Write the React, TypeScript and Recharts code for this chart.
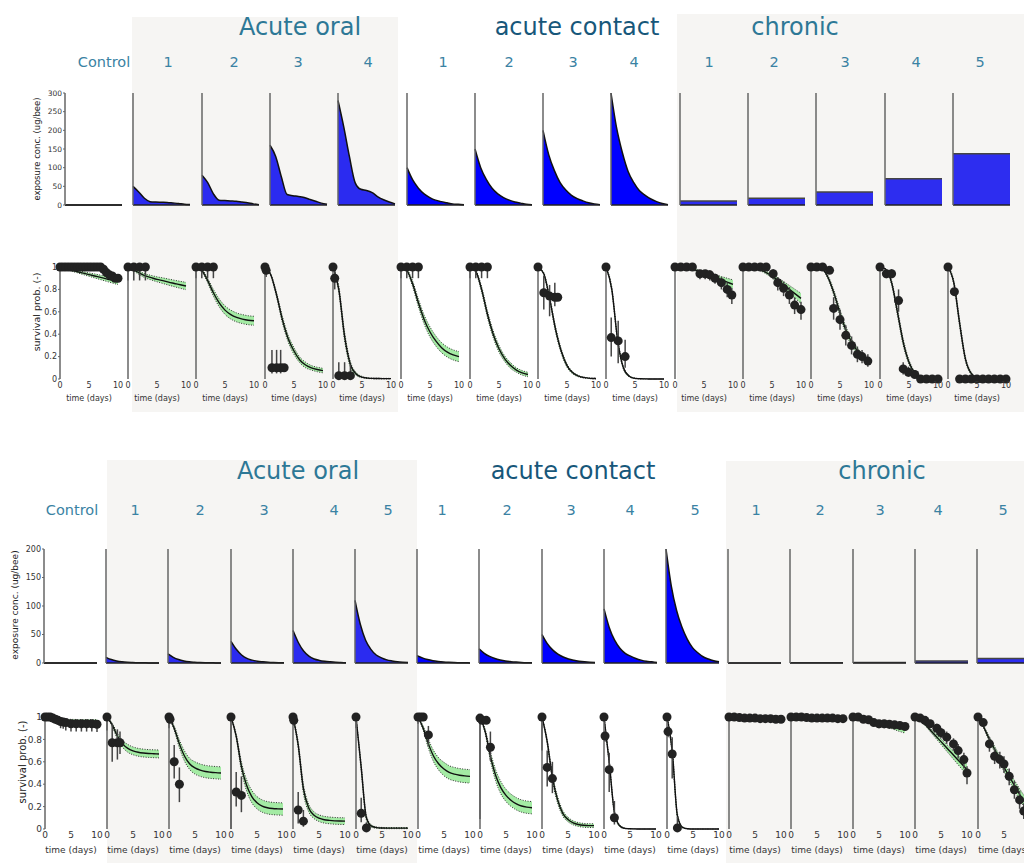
import React from "react";
import { ComposedChart, Area, Line, Scatter, ErrorBar, XAxis, YAxis } from "recharts";

// ---- shared ----
const days = [0, 1, 2, 3, 4, 5, 6, 7, 8, 9, 10];
const groupTitles = ["Acute oral", "acute contact", "chronic"];

// ---- top panel data ----
const topColumns = ["Control", "1", "2", "3", "4", "1", "2", "3", "4", "1", "2", "3", "4", "5"];
const topKinds = ["control", "oral", "oral", "oral", "oral", "contact", "contact", "contact", "contact", "chronic", "chronic", "chronic", "chronic", "chronic"];
const topExposureTicks = [0, 50, 100, 150, 200, 250, 300];

const topExposure: number[][] = [
  [0, 0, 0, 0, 0, 0, 0, 0, 0, 0, 0],
  [50, 35, 18, 9, 8, 7.5, 7, 5.5, 4, 2, 1],
  [80, 60, 30, 13, 12, 11, 10, 8, 6, 3, 1],
  [160, 130, 75, 28, 25, 23, 20, 15, 10, 5, 2],
  [280, 210, 130, 60, 42, 39, 33, 22, 14, 8, 3],
  [100, 67, 45, 30, 20, 13, 9, 6, 3, 2, 0.5],
  [150, 100, 68, 45, 30, 20, 13, 8, 5, 2, 1],
  [200, 135, 92, 60, 40, 26, 17, 11, 6, 3, 1],
  [300, 205, 140, 90, 60, 38, 26, 16, 9, 4, 1],
  [11, 11, 11, 11, 11, 11, 11, 11, 11, 11, 11],
  [18, 18, 18, 18, 18, 18, 18, 18, 18, 18, 18],
  [35, 35, 35, 35, 35, 35, 35, 35, 35, 35, 35],
  [70, 70, 70, 70, 70, 70, 70, 70, 70, 70, 70],
  [137, 137, 137, 137, 137, 137, 137, 137, 137, 137, 137],
];

const topMed: number[][] = [
  [1, 0.985, 0.97, 0.958, 0.945, 0.932, 0.92, 0.907, 0.894, 0.882, 0.87],
  [1, 0.975, 0.945, 0.92, 0.905, 0.89, 0.878, 0.865, 0.853, 0.841, 0.83],
  [1, 0.97, 0.88, 0.77, 0.68, 0.615, 0.575, 0.55, 0.535, 0.525, 0.52],
  [1, 0.93, 0.75, 0.53, 0.36, 0.25, 0.17, 0.125, 0.1, 0.085, 0.075],
  [1, 0.8, 0.38, 0.13, 0.045, 0.017, 0.008, 0.005, 0.004, 0.003, 0.003],
  [1, 0.97, 0.85, 0.68, 0.53, 0.42, 0.34, 0.28, 0.24, 0.215, 0.2],
  [1, 0.96, 0.8, 0.58, 0.4, 0.27, 0.18, 0.12, 0.08, 0.055, 0.04],
  [1, 0.94, 0.72, 0.45, 0.25, 0.12, 0.055, 0.025, 0.012, 0.006, 0.004],
  [1, 0.8, 0.35, 0.1, 0.025, 0.006, 0.002, 0.001, 0, 0, 0],
  [1, 1, 0.99, 0.98, 0.965, 0.945, 0.925, 0.905, 0.885, 0.865, 0.845],
  [1, 1, 0.99, 0.975, 0.95, 0.92, 0.88, 0.84, 0.8, 0.76, 0.72],
  [1, 1, 0.98, 0.9, 0.76, 0.59, 0.44, 0.33, 0.25, 0.195, 0.155],
  [1, 0.98, 0.86, 0.6, 0.33, 0.15, 0.055, 0.02, 0.006, 0.002, 0.001],
  [1, 0.86, 0.5, 0.18, 0.05, 0.012, 0.003, 0.001, 0, 0, 0],
];

const topSpread: number[][] = [
  [0, 0.005, 0.008, 0.01, 0.013, 0.015, 0.018, 0.02, 0.022, 0.025, 0.027],
  [0, 0.01, 0.015, 0.018, 0.02, 0.022, 0.025, 0.027, 0.029, 0.031, 0.033],
  [0, 0.01, 0.02, 0.03, 0.035, 0.038, 0.04, 0.04, 0.04, 0.04, 0.04],
  [0, 0.01, 0.02, 0.03, 0.03, 0.03, 0.025, 0.025, 0.02, 0.02, 0.02],
  [0, 0.03, 0.04, 0.025, 0.012, 0.006, 0.004, 0.003, 0.003, 0.003, 0.003],
  [0, 0.01, 0.025, 0.035, 0.04, 0.045, 0.045, 0.045, 0.045, 0.045, 0.045],
  [0, 0.01, 0.025, 0.03, 0.03, 0.03, 0.025, 0.025, 0.02, 0.02, 0.02],
  [0, 0.01, 0.02, 0.025, 0.02, 0.015, 0.01, 0.006, 0.004, 0.003, 0.003],
  [0, 0.02, 0.02, 0.012, 0.006, 0.003, 0.002, 0.001, 0, 0, 0],
  [0, 0, 0.005, 0.008, 0.01, 0.015, 0.02, 0.025, 0.03, 0.035, 0.04],
  [0, 0, 0.005, 0.008, 0.012, 0.018, 0.024, 0.03, 0.035, 0.04, 0.045],
  [0, 0, 0.005, 0.015, 0.025, 0.03, 0.03, 0.03, 0.028, 0.025, 0.022],
  [0, 0.005, 0.02, 0.03, 0.03, 0.02, 0.01, 0.005, 0.002, 0.001, 0],
  [0, 0.02, 0.03, 0.02, 0.01, 0.005, 0.002, 0, 0, 0, 0],
];

// observations: [day, survival, error below, error above]
const topObs: number[][][] = [
  [[0, 1], [0.5, 1], [1, 1], [1.5, 1], [2, 1], [2.5, 1], [3, 1], [3.5, 1], [4, 1], [4.5, 1], [5, 1], [5.5, 1], [6, 1], [6.5, 1], [7, 1], [7.5, 0.98], [8, 0.95], [8.5, 0.93], [9, 0.92], [9.5, 0.9], [10, 0.9]],
  [[0, 1, 0.12, 0], [1, 1, 0.12, 0], [2, 1, 0.12, 0], [3, 1, 0.12, 0]],
  [[0, 1, 0.1, 0], [1, 1, 0.1, 0], [2, 1, 0.1, 0], [3, 1, 0.1, 0]],
  [[0, 1], [0.2, 0.97, 0.06, 0.03], [1.2, 0.1, 0.05, 0.16], [2, 0.1, 0.05, 0.16], [2.7, 0.1, 0.05, 0.16], [3.3, 0.1]],
  [[0, 1], [0.3, 0.9, 0.1, 0.08], [1, 0.03, 0.02, 0.12], [2, 0.03, 0.02, 0.12], [3, 0.03, 0.02, 0.1]],
  [[0, 1, 0.1, 0], [1, 1, 0.1, 0], [2, 1, 0.1, 0], [3, 1, 0.1, 0]],
  [[0, 1, 0.1, 0], [1, 1, 0.1, 0], [2, 1, 0.1, 0], [3, 1, 0.1, 0]],
  [[0, 1], [1, 0.77, 0.15, 0.15], [2, 0.74, 0.18, 0.1], [2.9, 0.73, 0.08, 0.13], [3.4, 0.73]],
  [[0, 1], [0.9, 0.37, 0.17, 0.18], [2.1, 0.34, 0.2, 0.18], [3.3, 0.2, 0.1, 0.15]],
  [[0, 1], [1, 1], [2, 1], [3, 1], [4.3, 0.94, 0.05, 0.03], [5.2, 0.94, 0.05, 0.03], [6, 0.93, 0.05, 0.04], [6.9, 0.9, 0.05, 0.04], [8, 0.86, 0.06, 0.05], [9, 0.8, 0.07, 0.06], [9.8, 0.75, 0.08, 0.06]],
  [[0, 1], [1, 1], [2, 1], [3, 1], [4, 1], [5.2, 0.94, 0.05, 0.04], [6, 0.86, 0.07, 0.05], [7, 0.81, 0.07, 0.06], [8, 0.75, 0.08, 0.07], [8.9, 0.66, 0.08, 0.07], [10, 0.62, 0.09, 0.07]],
  [[0, 1], [1, 1], [2, 1], [3.2, 0.97, 0.03, 0.02], [3.9, 0.63, 0.1, 0.1], [5, 0.53, 0.09, 0.09], [6, 0.39, 0.09, 0.09], [7, 0.3, 0.08, 0.08], [8, 0.22, 0.07, 0.07], [8.8, 0.2, 0.06, 0.06], [9.8, 0.16, 0.05, 0.06]],
  [[0, 1], [1.1, 0.94, 0.04, 0.04], [2, 0.94, 0.04, 0.04], [3.2, 0.7, 0.1, 0.1], [4, 0.09, 0.05, 0.06], [4.9, 0.06, 0.04, 0.05], [6, 0.04, 0.03, 0.04], [7, 0], [8, 0], [9, 0], [10, 0]],
  [[0, 1], [1.1, 0.78], [2, 0], [3, 0], [4, 0], [5, 0], [6, 0], [7, 0], [8, 0], [9, 0], [10, 0]],
];

// ---- bottom panel data ----
const bottomColumns = ["Control", "1", "2", "3", "4", "5", "1", "2", "3", "4", "5", "1", "2", "3", "4", "5"];
const bottomKinds = ["control", "oral", "oral", "oral", "oral", "oral", "contact", "contact", "contact", "contact", "contact", "chronic", "chronic", "chronic", "chronic", "chronic"];
const bottomExposureTicks = [0, 50, 100, 150, 200];

const bottomExposure: number[][] = [
  [0, 0, 0, 0, 0, 0, 0, 0, 0, 0, 0],
  [10, 6, 3.5, 2, 1.2, 0.8, 0.5, 0.3, 0.2, 0.1, 0.1],
  [16, 10, 6, 3.5, 2, 1.3, 0.8, 0.5, 0.3, 0.2, 0.1],
  [38, 24, 14, 8, 5, 3, 2, 1.2, 0.7, 0.4, 0.3],
  [57, 36, 21, 12, 7, 4.5, 3, 2, 1.2, 0.8, 0.5],
  [110, 68, 40, 24, 14, 9, 5.5, 3.5, 2, 1.3, 1],
  [13, 9, 6, 4, 2.7, 1.8, 1.2, 0.8, 0.5, 0.3, 0.2],
  [25, 17, 11.5, 7.8, 5.3, 3.5, 2.4, 1.6, 1, 0.6, 0.4],
  [50, 34, 23, 15.5, 10.5, 7, 4.8, 3.2, 2, 1.2, 0.8],
  [95, 62, 40, 26, 17, 12, 8, 5, 3, 2, 1],
  [200, 135, 92, 63, 42, 27, 18, 11, 7, 4, 2],
  [0.2, 0.2, 0.2, 0.2, 0.2, 0.2, 0.2, 0.2, 0.2, 0.2, 0.2],
  [0.4, 0.4, 0.4, 0.4, 0.4, 0.4, 0.4, 0.4, 0.4, 0.4, 0.4],
  [0.8, 0.8, 0.8, 0.8, 0.8, 0.8, 0.8, 0.8, 0.8, 0.8, 0.8],
  [3.5, 3.5, 3.5, 3.5, 3.5, 3.5, 3.5, 3.5, 3.5, 3.5, 3.5],
  [8, 8, 8, 8, 8, 8, 8, 8, 8, 8, 8],
];

const bottomMed: number[][] = [
  [1, 0.99, 0.982, 0.976, 0.972, 0.969, 0.967, 0.965, 0.964, 0.963, 0.962],
  [1, 0.93, 0.83, 0.76, 0.72, 0.698, 0.685, 0.678, 0.674, 0.672, 0.67],
  [1, 0.9, 0.76, 0.65, 0.58, 0.545, 0.525, 0.513, 0.507, 0.503, 0.5],
  [1, 0.83, 0.56, 0.39, 0.29, 0.235, 0.205, 0.19, 0.183, 0.18, 0.178],
  [1, 0.75, 0.36, 0.19, 0.125, 0.097, 0.083, 0.077, 0.073, 0.071, 0.07],
  [1, 0.55, 0.1, 0.025, 0.012, 0.009, 0.008, 0.008, 0.008, 0.008, 0.008],
  [1, 0.9, 0.76, 0.65, 0.58, 0.535, 0.505, 0.49, 0.48, 0.474, 0.47],
  [1, 0.87, 0.65, 0.48, 0.37, 0.3, 0.255, 0.225, 0.205, 0.195, 0.19],
  [1, 0.78, 0.46, 0.26, 0.14, 0.085, 0.055, 0.04, 0.033, 0.03, 0.03],
  [1, 0.6, 0.15, 0.03, 0.006, 0.002, 0.001, 0, 0, 0, 0],
  [1, 0.7, 0.12, 0.015, 0.002, 0, 0, 0, 0, 0, 0],
  [1, 0.998, 0.995, 0.992, 0.99, 0.987, 0.985, 0.983, 0.98, 0.978, 0.975],
  [1, 0.998, 0.995, 0.993, 0.99, 0.988, 0.985, 0.983, 0.98, 0.978, 0.975],
  [1, 0.995, 0.985, 0.975, 0.962, 0.95, 0.937, 0.925, 0.913, 0.9, 0.89],
  [1, 0.97, 0.93, 0.88, 0.83, 0.78, 0.73, 0.68, 0.63, 0.58, 0.53],
  [1, 0.92, 0.82, 0.73, 0.64, 0.55, 0.47, 0.39, 0.31, 0.24, 0.18],
];

const bottomSpread: number[][] = [
  [0, 0.004, 0.006, 0.008, 0.009, 0.01, 0.011, 0.012, 0.013, 0.014, 0.015],
  [0, 0.015, 0.025, 0.03, 0.035, 0.035, 0.035, 0.035, 0.035, 0.035, 0.035],
  [0, 0.02, 0.035, 0.045, 0.05, 0.055, 0.055, 0.055, 0.055, 0.055, 0.055],
  [0, 0.02, 0.04, 0.05, 0.055, 0.055, 0.055, 0.055, 0.055, 0.055, 0.055],
  [0, 0.03, 0.04, 0.035, 0.03, 0.03, 0.03, 0.03, 0.03, 0.03, 0.03],
  [0, 0.03, 0.02, 0.01, 0.006, 0.005, 0.005, 0.005, 0.005, 0.005, 0.005],
  [0, 0.02, 0.04, 0.05, 0.055, 0.06, 0.06, 0.06, 0.06, 0.06, 0.06],
  [0, 0.02, 0.04, 0.05, 0.055, 0.055, 0.055, 0.055, 0.055, 0.055, 0.055],
  [0, 0.02, 0.03, 0.03, 0.025, 0.02, 0.018, 0.017, 0.017, 0.017, 0.017],
  [0, 0.02, 0.015, 0.008, 0.003, 0.001, 0, 0, 0, 0, 0],
  [0, 0.03, 0.02, 0.005, 0.001, 0, 0, 0, 0, 0, 0],
  [0, 0.002, 0.003, 0.004, 0.005, 0.006, 0.007, 0.008, 0.009, 0.01, 0.011],
  [0, 0.002, 0.003, 0.005, 0.006, 0.007, 0.008, 0.009, 0.01, 0.011, 0.012],
  [0, 0.003, 0.006, 0.01, 0.013, 0.016, 0.02, 0.023, 0.026, 0.03, 0.033],
  [0, 0.005, 0.01, 0.015, 0.02, 0.025, 0.03, 0.035, 0.04, 0.045, 0.05],
  [0, 0.01, 0.02, 0.025, 0.03, 0.035, 0.04, 0.045, 0.05, 0.05, 0.05],
];

const bottomObs: number[][][] = [
  [[0, 1], [0.5, 1], [1, 1], [1.5, 0.99], [2, 0.98, 0.03, 0.02], [2.5, 0.97, 0.03, 0.02], [3, 0.96, 0.06, 0.03], [3.5, 0.955, 0.06, 0.03], [4, 0.95, 0.07, 0.03], [5, 0.94, 0.07, 0.03], [6, 0.94, 0.07, 0.03], [7, 0.94, 0.07, 0.03], [8, 0.94, 0.07, 0.03], [9, 0.94, 0.07, 0.03], [10, 0.935, 0.07, 0.03]],
  [[0, 1, 0.12, 0], [1, 0.77, 0.17, 0.17], [2, 0.77, 0.15, 0.12], [2.5, 0.77, 0.1, 0.1]],
  [[0, 1, 0.1, 0], [0.2, 0.98], [1, 0.6, 0.15, 0.15], [2, 0.4, 0.16, 0.15]],
  [[0, 1, 1, 0], [1, 0.33, 0.13, 0.18], [2, 0.3, 0.15, 0.17]],
  [[0, 1], [0.15, 0.97, 0.05, 0], [1, 0.17, 0.12, 0.16], [2, 0.07, 0.05, 0.1]],
  [[0, 1, 0.1, 0], [1, 0.14, 0.08, 0.14], [2, 0.01, 0.01, 0.05]],
  [[0, 1, 0.06, 0], [0.5, 1], [1, 1], [2, 0.84, 0.1, 0.08]],
  [[0, 0.99, 0.9, 0.01], [0.4, 0.97], [1.2, 0.97], [2, 0.73, 0.12, 0.14]],
  [[0, 1, 0.3, 0], [1, 0.55, 0.17, 0.15], [2, 0.45, 0.13, 0.15]],
  [[0, 1], [0.2, 0.83, 0.05, 0.05], [1, 0.53, 0.2, 0.15], [2, 0.1, 0.06, 0.15]],
  [[0, 1], [0.2, 0.87, 0.05, 0.05], [1, 0.67, 0.22, 0.15], [2, 0.01, 0.01, 0.1]],
  [[0, 1], [1, 1], [2, 0.995], [3, 0.99, 0.01, 0.01], [4, 0.99, 0.02, 0.01], [5, 0.99, 0.02, 0.01], [6, 0.985, 0.02, 0.01], [7, 0.985, 0.02, 0.01], [8, 0.985, 0.02, 0.01], [9, 0.98, 0.02, 0.01], [10, 0.98, 0.02, 0.01]],
  [[0, 1], [1, 1], [2, 1], [3, 0.995], [4, 0.99, 0.01, 0.01], [5, 0.99, 0.02, 0.01], [6, 0.99, 0.02, 0.01], [7, 0.99, 0.02, 0.01], [8, 0.99, 0.02, 0.01], [9, 0.985, 0.02, 0.01], [10, 0.985, 0.02, 0.01]],
  [[0, 1], [1, 1], [2, 0.98], [3, 0.975], [4, 0.95, 0.03, 0.02], [5, 0.94, 0.04, 0.02], [6, 0.94, 0.04, 0.02], [7, 0.935, 0.04, 0.02], [8, 0.93, 0.04, 0.02], [9, 0.925, 0.04, 0.02], [10, 0.915, 0.04, 0.02]],
  [[0, 1], [1, 0.99], [1.9, 0.97, 0.03, 0.02], [2.9, 0.94, 0.04, 0.03], [4.2, 0.9, 0.05, 0.04], [5, 0.86, 0.05, 0.04], [6.1, 0.82, 0.06, 0.05], [7.4, 0.76, 0.06, 0.05], [8.3, 0.7, 0.07, 0.06], [9.4, 0.62, 0.08, 0.06], [10, 0.5, 0.1, 0.06]],
  [[0, 1], [1, 0.95, 0.03, 0.03], [2.2, 0.76, 0.07, 0.06], [3.2, 0.65, 0.07, 0.07], [4.2, 0.62, 0.08, 0.07], [5, 0.58, 0.08, 0.07], [6, 0.47, 0.08, 0.07], [7, 0.35, 0.08, 0.08], [8, 0.26, 0.08, 0.08], [8.8, 0.16, 0.07, 0.07], [10, 0.1, 0.06, 0.06]],
];

const survivalTicks = [0, 0.2, 0.4, 0.6, 0.8, 1];

// ---- layout (pixels) ----
const topLabelX = [104, 168, 234, 298, 368, 443, 509, 573, 634, 709, 774, 845, 916, 980];
const bottomLabelX = [72, 135, 200, 264, 334, 388, 442, 507, 571, 630, 695, 756, 820, 880, 938, 1003];

const fills: Record<string, string> = {
  control: "#2b2bf0",
  oral: "#2b2bf0",
  contact: "#0000ff",
  chronic: "#2d2df0",
};

const titleColor = "#2d7896";
const contactColor = "#17577a";
const colColor = "#3a82a3";
const shade = "#f6f5f3";
const axisStroke = "#666";

function ExposurePanel({ x, y, w, h, values, max, ticks, kind, labels, fontSize }: any) {
  const data = days.map((t, i) => ({ t, c: values[i] }));
  const L = 30, T = 5, R = 3, B = 8;
  return (
    <div style={{ position: "absolute", left: x - L, top: y - T }}>
      <ComposedChart width={L + w + R} height={T + h + B} data={data} margin={{ top: T, right: R, bottom: 0, left: 0 }}>
        <XAxis dataKey="t" type="number" domain={[0, 10]} ticks={[0, 5, 10]} tick={false} tickLine={false} height={B}
          axisLine={{ stroke: "#222", strokeWidth: 1.5 }} />
        <YAxis type="number" domain={[0, max]} ticks={ticks} width={L} interval={0}
          tick={labels ? { fontSize, fill: "#333" } : false} tickSize={2} tickMargin={1}
          axisLine={{ stroke: axisStroke, strokeWidth: 1.5 }} tickLine={{ stroke: axisStroke }} />
        <Area type="monotone" dataKey="c" fill={fills[kind]} fillOpacity={1}
          stroke={kind === "chronic" ? "#444" : "#111"} strokeWidth={1.5} isAnimationActive={false} />
      </ComposedChart>
    </div>
  );
}

function Dot(props: any) {
  if (props.cx == null || props.cy == null) return null;
  return <circle cx={props.cx} cy={props.cy} r={4.5} fill="#222" />;
}

function SurvivalPanel({ x, y, w, h, med, spread, obs, labels, tickFont, xFont, B }: any) {
  const model = days.map((t, i) => ({
    t,
    med: med[i],
    band: [Math.max(0, med[i] - spread[i]), Math.min(1, med[i] + spread[i])],
  }));
  const points = obs.map((o: number[]) => ({ t: o[0], s: o[1], err: [o[2] ?? 0, o[3] ?? 0] }));
  const L = 30, T = 6, R = 6;
  return (
    <div style={{ position: "absolute", left: x - L, top: y - T }}>
      <ComposedChart width={L + w + R} height={T + h + B} data={model} margin={{ top: T, right: R, bottom: 0, left: 0 }}>
        <XAxis dataKey="t" type="number" domain={[0, 10]} ticks={[0, 5, 10]} interval={0} height={B}
          axisLine={false} tickLine={false} tickSize={0} tickMargin={3}
          tick={{ fontSize: tickFont, fill: "#333" }}
          label={{ value: "time (days)", position: "insideBottom", offset: 4, fontSize: xFont, fill: "#333" }} />
        <YAxis type="number" domain={[0, 1]} ticks={survivalTicks} width={L} interval={0}
          tick={labels ? { fontSize: tickFont, fill: "#333" } : false} tickSize={2} tickMargin={1}
          axisLine={{ stroke: axisStroke, strokeWidth: 1.5 }} tickLine={{ stroke: axisStroke }} />
        <Area type="monotone" dataKey="band" fill="#a4eba4" fillOpacity={1} stroke="#333" strokeWidth={1}
          strokeDasharray="1 1.5" isAnimationActive={false} />
        <Line type="monotone" dataKey="med" stroke="#111" strokeWidth={1.4} dot={false} isAnimationActive={false} />
        <Scatter data={points} dataKey="s" shape={<Dot />} isAnimationActive={false}>
          <ErrorBar dataKey="err" direction="y" width={0} stroke="#444" strokeWidth={1.5} />
        </Scatter>
      </ComposedChart>
    </div>
  );
}

function Text({ x, y, size, color, children, rotate }: any) {
  return (
    <div style={{
      position: "absolute", left: x, top: y, fontSize: size, color, whiteSpace: "nowrap", lineHeight: 1,
      transform: `translate(-50%, -50%)${rotate ? " rotate(-90deg)" : ""}`,
    }}>
      {children}
    </div>
  );
}

export default function App() {
  return (
    <div style={{
      position: "absolute", left: 0, top: 0, width: 1024, height: 863, overflow: "hidden",
      background: "#fff", fontFamily: "'DejaVu Sans', Verdana, sans-serif",
    }}>
      {/* shaded treatment groups */}
      <div style={{ position: "absolute", left: 132, top: 17, width: 266, height: 395, background: shade }} />
      <div style={{ position: "absolute", left: 677, top: 14, width: 347, height: 398, background: shade }} />
      <div style={{ position: "absolute", left: 107, top: 460, width: 310, height: 403, background: shade }} />
      <div style={{ position: "absolute", left: 726, top: 461, width: 298, height: 402, background: shade }} />

      {/* top panel */}
      <Text x={300} y={27} size={24} color={titleColor}>{groupTitles[0]}</Text>
      <Text x={577} y={27} size={24} color={contactColor}>{groupTitles[1]}</Text>
      <Text x={795} y={27} size={24} color={titleColor}>{groupTitles[2]}</Text>
      {topColumns.map((c, i) => (
        <Text key={"tc" + i} x={topLabelX[i]} y={62} size={14.5} color={colColor}>{c}</Text>
      ))}
      <Text x={37} y={149} size={8.5} color="#222" rotate>exposure conc. (ug/bee)</Text>
      <Text x={37} y={312} size={9.5} color="#222" rotate>survival prob. (-)</Text>
      {topExposure.map((v, i) => (
        <ExposurePanel key={"te" + i} x={65 + 68.3 * i} y={93} w={57} h={112} values={v} max={300}
          ticks={topExposureTicks} kind={topKinds[i]} labels={i === 0} fontSize={7.5} />
      ))}
      {topMed.map((m, i) => (
        <SurvivalPanel key={"ts" + i} x={59.5 + 68.35 * i} y={267} w={58} h={112} med={m} spread={topSpread[i]}
          obs={topObs[i]} labels={i === 0} tickFont={8} xFont={8} B={26} />
      ))}

      {/* bottom panel */}
      <Text x={298} y={471} size={24} color={titleColor}>{groupTitles[0]}</Text>
      <Text x={573} y={471} size={24} color={contactColor}>{groupTitles[1]}</Text>
      <Text x={882} y={471} size={24} color={titleColor}>{groupTitles[2]}</Text>
      {bottomColumns.map((c, i) => (
        <Text key={"bc" + i} x={bottomLabelX[i]} y={510} size={14.5} color={colColor}>{c}</Text>
      ))}
      <Text x={15} y={605} size={9} color="#222" rotate>exposure conc. (ug/bee)</Text>
      <Text x={23} y={762} size={10} color="#222" rotate>survival prob. (-)</Text>
      {bottomExposure.map((v, i) => (
        <ExposurePanel key={"be" + i} x={44 + 62.2 * i} y={549} w={53} h={114} values={v} max={200}
          ticks={bottomExposureTicks} kind={bottomKinds[i]} labels={i === 0} fontSize={8} />
      ))}
      {bottomMed.map((m, i) => (
        <SurvivalPanel key={"bs" + i} x={44.5 + 62.2 * i} y={717} w={52} h={112} med={m} spread={bottomSpread[i]}
          obs={bottomObs[i]} labels={i === 0} tickFont={9} xFont={9} B={28} />
      ))}
    </div>
  );
}
